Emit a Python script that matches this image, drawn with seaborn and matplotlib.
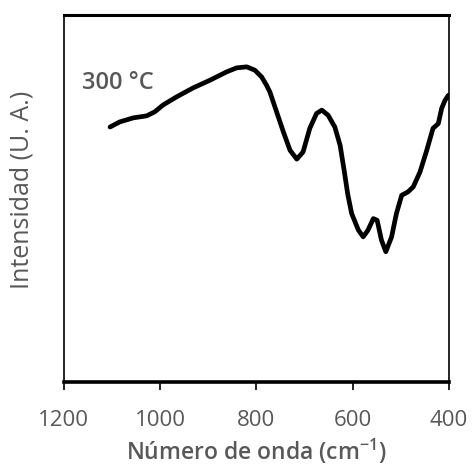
import matplotlib
matplotlib.use("Agg")
import matplotlib.pyplot as plt
import seaborn as sns
import pandas as pd

# wavenumber (cm-1) and intensity (arbitrary units)
wavenumber = [1104, 1084, 1056, 1028, 1011, 994, 966, 931, 897, 862, 841, 820,
              803, 789, 779, 772, 758, 744, 730, 716, 703, 689, 675, 664, 651,
              637, 626, 618, 610, 602, 588, 578, 568, 557, 549, 540, 531, 519,
              509, 498, 485, 474, 460, 446, 433, 422, 415, 408, 401]
intensity = [75.5, 77.0, 78.2, 78.8, 80.0, 82.0, 84.4, 87.1, 89.3, 91.8, 93.0, 93.3,
             92.3, 90.3, 87.9, 85.9, 80.0, 74.1, 68.6, 66.0, 68.1, 75.1, 79.5, 80.5, 79.0,
             75.5, 70.1, 63.0, 55.5, 49.9, 45.0, 43.0, 45.0, 48.4, 47.9, 42.0, 38.6, 43.0,
             49.9, 55.3, 56.3, 57.8, 62.2, 68.6, 75.1, 76.5, 81.0, 83.4, 84.9]
x_ticks = [1200, 1000, 800, 600, 400]
sample_label = "300 °C"

TEXT_COLOR = "#585858"

sns.set_theme(style="white")
plt.rcParams["font.family"] = ["Open Sans", "DejaVu Sans"]

df = pd.DataFrame({"wavenumber": wavenumber, "intensity": intensity})

fig = plt.figure(figsize=(4.73, 4.73), dpi=100)
ax = fig.add_axes([0.135, 0.192, 0.814, 0.776])

sns.lineplot(data=df, x="wavenumber", y="intensity", sort=False, ax=ax,
             color="black", linewidth=3.4, solid_joinstyle="round",
             solid_capstyle="round")

ax.set_xlim(1200, 400)
ax.set_ylim(0, 108.6)
ax.set_xticks(x_ticks)
ax.set_xticklabels([str(t) for t in x_ticks], fontsize=16, color=TEXT_COLOR)
ax.set_yticks([])
ax.tick_params(axis="x", direction="out", length=6, width=1.2, color="black",
               bottom=True, pad=14)

for side, lw in [("left", 1.2), ("right", 1.2), ("top", 2.2), ("bottom", 2.6)]:
    ax.spines[side].set_visible(True)
    ax.spines[side].set_color("black")
    ax.spines[side].set_linewidth(lw)

ax.set_xlabel("Número de onda (cm$^{\\mathregular{-1}}$)", fontsize=16.5,
              color=TEXT_COLOR, fontweight="semibold", labelpad=4)
ax.set_ylabel("Intensidad (U. A.)", fontsize=18, color=TEXT_COLOR)
ax.yaxis.set_label_coords(-0.075, 0.525)

ax.text(0.047, 0.815, sample_label, transform=ax.transAxes, fontsize=17,
        color=TEXT_COLOR, fontweight="semibold", va="center", ha="left")

fig.savefig("out.png", dpi=100)
